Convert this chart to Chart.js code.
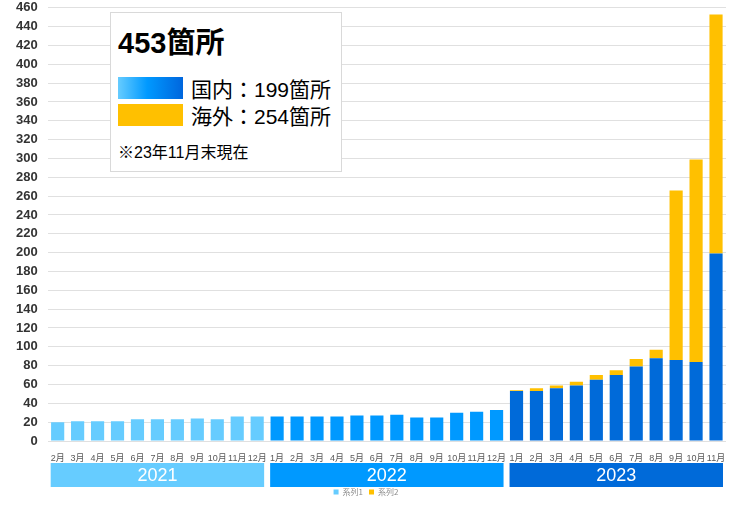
<!DOCTYPE html>
<html>
<head>
<meta charset="utf-8">
<script src="https://cdn.jsdelivr.net/npm/chart.js@4.4.1/dist/chart.umd.min.js"></script>
<style>
  html, body { margin: 0; padding: 0; background: #fff; overflow: hidden; }
  #wrap { position: relative; width: 736px; height: 511px; overflow: hidden; }
  #orderChart { position: absolute; left: 0; top: -10px; }
  #note {
    position: absolute; left: 110px; top: 12px; width: 230px; height: 158px;
    background: #fff; border: 1px solid #d9d9d9;
    font-family: "Liberation Sans", Arial, "Noto Sans CJK JP", sans-serif; color: #000;
  }
  #note .total { position: absolute; left: 7px; top: 14px; font-size: 29px; font-weight: bold; line-height: 32px; }
  #note .row { position: absolute; left: 7px; height: 22px; display: flex; align-items: center; font-size: 21px; }
  #note .sw { width: 65px; height: 22px; margin-right: 8px; flex: none; }
  #note .foot { position: absolute; left: 7px; top: 130px; font-size: 16px; line-height: 20px; }
</style>
</head>
<body>
<div id="wrap">
  <canvas id="orderChart" width="736" height="521"></canvas>
  <div id="note">
    <div class="total">453箇所</div>
    <div class="row" style="top:64px"><div class="sw" style="background:linear-gradient(90deg,#66ccff,#0099ff 45%,#0066dd)"></div>国内：199箇所</div>
    <div class="row" style="top:91px"><div class="sw" style="background:#ffc000"></div>海外：254箇所</div>
    <div class="foot">※23年11月末現在</div>
  </div>
</div>
<script>
const months = ['2月','3月','4月','5月','6月','7月','8月','9月','10月','11月','12月',
    '1月','2月','3月','4月','5月','6月','7月','8月','9月','10月','11月','12月',
    '1月','2月','3月','4月','5月','6月','7月','8月','9月','10月','11月'];
const years = ['2021', '2022', '2023'];
const monthsPerYear = [11, 12, 11];

// 系列1 = 国内, 系列2 = 海外
const domestic = [20, 21, 21, 21, 23, 23, 23, 24, 23, 26, 26,
    26, 26, 26, 26, 27, 27, 28, 25, 25, 30, 31, 33,
    53, 53, 56, 59, 65, 70, 79, 88, 86, 84, 199];
const overseas = [0, 0, 0, 0, 0, 0, 0, 0, 0, 0, 0,
    0, 0, 0, 0, 0, 0, 0, 0, 0, 0, 0, 0,
    1, 3, 3, 4, 5, 5, 8, 9, 180, 215, 254];

const yearColors = ['#66ccff', '#0099ff', '#006ad9'];
const barColors = [];
monthsPerYear.forEach((n, i) => { for (let k = 0; k < n; k++) barColors.push(yearColors[i]); });

// year bands under the month labels
const yearBands = {
    id: 'yearBands',
    afterDraw(chart) {
        const ctx = chart.ctx;
        const x = chart.scales.x;
        const half = (x.getPixelForValue(1) - x.getPixelForValue(0)) / 2;
        const top = chart.chartArea.bottom + 22;
        let start = 0;
        monthsPerYear.forEach((n, i) => {
            const left = x.getPixelForValue(start) - half + 3;
            const right = x.getPixelForValue(start + n - 1) + half - 3;
            ctx.save();
            ctx.fillStyle = yearColors[i];
            ctx.fillRect(left, top, right - left, 24);
            ctx.fillStyle = '#fff';
            ctx.font = '18px "Liberation Sans", Arial, sans-serif';
            ctx.textAlign = 'center';
            ctx.textBaseline = 'middle';
            ctx.fillText(years[i], (left + right) / 2, top + 13);
            ctx.restore();
            start += n;
        });
    }
};

const ctx = document.getElementById('orderChart').getContext('2d');
new Chart(ctx, {
    type: 'bar',
    data: {
        labels: months,
        datasets: [
            { label: '系列1', data: domestic, backgroundColor: barColors, borderWidth: 0,
              barPercentage: 0.66, categoryPercentage: 1 },
            { label: '系列2', data: overseas, backgroundColor: '#ffc000', borderWidth: 0,
              barPercentage: 0.66, categoryPercentage: 1 }
        ]
    },
    options: {
        responsive: false,
        animation: false,
        layout: { padding: { left: 6, right: 10, top: 0, bottom: 5 } },
        scales: {
            x: {
                stacked: true,
                grid: { display: false },
                border: { display: false },
                ticks: {
                    autoSkip: false, maxRotation: 0, padding: 4,
                    color: '#595959',
                    font: { size: 9, family: "'Liberation Sans', Arial, 'Noto Sans CJK JP'" }
                },
                afterFit(scale) { scale.height = 41; }
            },
            y: {
                stacked: true,
                min: 0, max: 460,
                border: { display: false },
                grid: { color: '#e0e0e0', drawTicks: false },
                ticks: {
                    stepSize: 20, autoSkip: false, padding: 10,
                    color: '#333',
                    font: { size: 13, weight: 'bold', family: "'Liberation Sans', Arial" }
                }
            }
        },
        plugins: {
            legend: {
                position: 'bottom',
                labels: {
                    boxWidth: 5, boxHeight: 5, padding: 6,
                    color: '#8c8c8c',
                    font: { size: 8, family: "'Noto Sans CJK JP', sans-serif" }
                }
            },
            tooltip: { enabled: false }
        }
    },
    plugins: [yearBands]
});
</script>
</body>
</html>
